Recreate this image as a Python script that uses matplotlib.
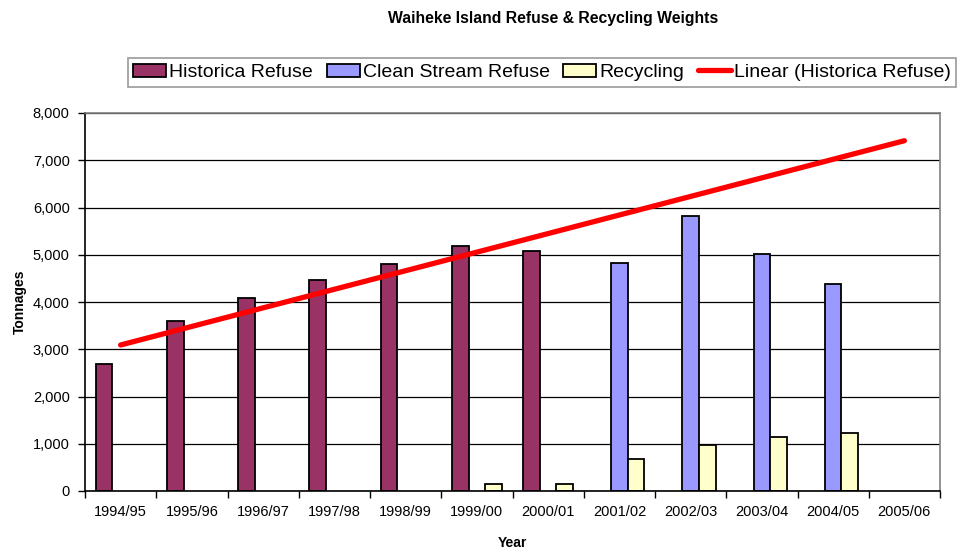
import numpy as np
import matplotlib
matplotlib.use("Agg")
import matplotlib.pyplot as plt
from matplotlib.ticker import FuncFormatter, FixedLocator

plt.rcParams['font.family'] = ['Liberation Sans', 'DejaVu Sans']

years = ["1994/95", "1995/96", "1996/97", "1997/98", "1998/99", "1999/00",
         "2000/01", "2001/02", "2002/03", "2003/04", "2004/05", "2005/06"]
historica = [2690, 3600, 4085, 4465, 4800, 5175, 5070, None, None, None, None, None]
clean_stream = [None, None, None, None, None, None, None, 4820, 5830, 5020, 4380, None]
recycling = [None, None, None, None, None, 150, 150, 685, 980, 1150, 1230, None]

def arr(v):
    return np.array([np.nan if x is None else x for x in v], dtype=float)

h = arr(historica)
c = arr(clean_stream)
r = arr(recycling)
x = np.arange(len(years))

fig = plt.figure(figsize=(9.63, 5.5), dpi=100)
ax = fig.add_axes([85/963, 1-491/550, (940-85)/963, (491-113)/550])

w = 0.233
ax.set_axisbelow(True)
ax.yaxis.grid(True, color='black', linewidth=0.9)
m = ~np.isnan(h)
b1 = ax.bar(x[m] - w, h[m], w, color='#993366', edgecolor='black', linewidth=1.3, label='Historica Refuse', zorder=2)
m = ~np.isnan(c)
b2 = ax.bar(x[m], c[m], w, color='#9999FF', edgecolor='black', linewidth=1.3, label='Clean Stream Refuse', zorder=2)
m = ~np.isnan(r)
b3 = ax.bar(x[m] + w, r[m], w, color='#FFFFCC', edgecolor='black', linewidth=1.3, label='Recycling', zorder=2)

# linear trend of Historica Refuse, extended over all categories
m = ~np.isnan(h)
k, b = np.polyfit(x[m] + 1, h[m], 1)
xt = np.array([0, len(years) - 1])
ln, = ax.plot(xt, k * (xt + 1) + b, color='#FF0000', linewidth=3.8, solid_capstyle='round',
              label='Linear (Historica Refuse)', zorder=3)

ax.set_xlim(-0.5, len(years) - 0.5)
ax.set_ylim(0, 8000)
ax.set_yticks(np.arange(0, 8001, 1000))
ax.yaxis.set_major_formatter(FuncFormatter(lambda v, p: f"{int(v):,}"))
ax.set_xticks(x)
ax.set_xticklabels(years)
ax.xaxis.set_minor_locator(FixedLocator(np.arange(-0.5, len(years), 1.0)))
ax.tick_params(axis='x', which='major', length=0, pad=10, labelsize=10.5)
ax.tick_params(axis='x', which='minor', length=5, width=1, direction='out')
ax.tick_params(axis='y', length=5, width=1, direction='out', pad=6, labelsize=10.5)

for s in ['top', 'right']:
    ax.spines[s].set_color('#808080')
    ax.spines[s].set_linewidth(1.2)
for s in ['left', 'bottom']:
    ax.spines[s].set_color('black')
    ax.spines[s].set_linewidth(1.2)

ax.set_xlabel('Year', fontweight='bold', fontsize=10, labelpad=12)
ax.set_ylabel('Tonnages', fontweight='bold', fontsize=10, labelpad=4)

fig.text(553/963, 1-18/550, 'Waiheke Island Refuse & Recycling Weights', ha='center', va='center',
         fontweight='bold', fontsize=11.3)

leg = fig.legend(handles=[b1, b2, b3, ln], loc='center', bbox_to_anchor=(542/963, 1-72.5/550), ncol=4,
                 fontsize=14, frameon=True, fancybox=False, edgecolor='#808080', handlelength=1.7,
                 handletextpad=0.15, columnspacing=0.7, borderpad=0.28, handleheight=0.7)
leg.get_frame().set_linewidth(1.2)

fig.savefig('out.png', dpi=100)
